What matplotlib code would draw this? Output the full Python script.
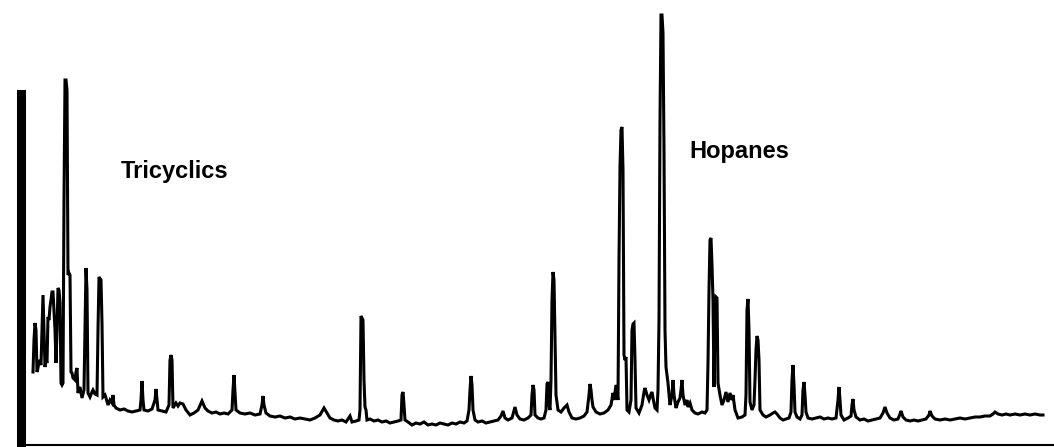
import matplotlib
matplotlib.use("Agg")
import matplotlib.pyplot as plt

# m/z 191 trace, scan number vs abundance (arbitrary units)
scans = [
    24, 26, 28, 30, 32, 34, 36, 40, 42, 44, 46, 48, 50, 52, 54, 56, 58, 60, 62, 64,
    66, 68, 70, 72, 74, 76, 78, 80, 82, 84, 86, 88, 90, 92, 94, 96, 98, 100, 102, 104,
    108, 110, 112, 114, 118, 122, 126, 128, 130, 132, 134, 138, 142, 144, 148, 152, 154, 156, 160, 162,
    164, 168, 170, 174, 178, 182, 184, 186, 190, 198, 206, 214, 222, 230, 238, 240, 242, 244, 246, 254,
    262, 268, 270, 272, 274, 282, 290, 296, 298, 300, 302, 304, 310, 314, 318, 324, 330, 338, 346, 354,
    362, 368, 374, 382, 390, 398, 406, 414, 422, 424, 426, 428, 430, 438, 448, 458, 468, 478, 482, 484,
    486, 490, 498, 508, 518, 528, 538, 548, 558, 568, 578, 588, 598, 606, 612, 618, 626, 634, 642, 650,
    658, 662, 670, 676, 678, 680, 684, 686, 688, 690, 692, 698, 706, 714, 722, 730, 738, 746, 754, 760,
    762, 764, 766, 768, 774, 782, 790, 798, 806, 814, 822, 830, 838, 846, 854, 862, 870, 878, 886, 892,
    896, 898, 900, 902, 904, 908, 914, 922, 930, 938, 946, 954, 960, 964, 968, 974, 982, 988, 992, 998,
    1006, 1014, 1020, 1022, 1024, 1026, 1028, 1034, 1040, 1046, 1050, 1052, 1054, 1056, 1058, 1060, 1062, 1064, 1066, 1068,
    1070, 1074, 1080, 1086, 1092, 1096, 1102, 1110, 1118, 1126, 1132, 1136, 1138, 1140, 1142, 1144, 1150, 1158, 1166, 1174,
    1180, 1184, 1186, 1190, 1194, 1196, 1198, 1200, 1202, 1204, 1206, 1208, 1210, 1212, 1216, 1220, 1222, 1224, 1226, 1228,
    1230, 1236, 1242, 1246, 1248, 1252, 1256, 1260, 1262, 1264, 1268, 1272, 1274, 1276, 1278, 1280, 1282, 1284, 1286, 1288,
    1290, 1294, 1298, 1302, 1304, 1306, 1310, 1314, 1318, 1320, 1322, 1324, 1328, 1332, 1334, 1338, 1342, 1348, 1354, 1362,
    1368, 1372, 1374, 1376, 1378, 1380, 1382, 1384, 1386, 1388, 1390, 1392, 1394, 1398, 1402, 1406, 1410, 1414, 1418, 1422,
    1424, 1428, 1434, 1442, 1448, 1450, 1452, 1454, 1456, 1458, 1462, 1466, 1468, 1470, 1472, 1474, 1476, 1478, 1484, 1490,
    1498, 1504, 1508, 1512, 1518, 1524, 1530, 1536, 1540, 1542, 1544, 1546, 1548, 1552, 1558, 1562, 1564, 1566, 1568, 1570,
    1574, 1582, 1590, 1598, 1606, 1614, 1622, 1630, 1634, 1636, 1638, 1640, 1646, 1654, 1660, 1662, 1664, 1666, 1670, 1678,
    1686, 1694, 1702, 1710, 1718, 1724, 1728, 1732, 1738, 1746, 1754, 1758, 1760, 1764, 1770, 1778, 1786, 1794, 1802, 1810,
    1816, 1818, 1822, 1828, 1838, 1848, 1858, 1868, 1878, 1888, 1898, 1908, 1918, 1928, 1938, 1944, 1948, 1954, 1962, 1970,
    1978, 1988, 1998, 2008, 2018, 2028, 2038, 2044,
]
abundance = [
    73, 105, 122, 115, 73, 77, 85, 80, 115, 150, 115, 78, 85, 82, 128, 125, 138, 145, 153, 153,
    135, 115, 82, 115, 157, 155, 142, 62, 60, 62, 245, 365, 365, 355, 170, 172, 170, 73, 72, 67,
    65, 73, 77, 52, 58, 47, 55, 115, 177, 155, 52, 48, 53, 55, 51, 50, 115, 168, 165, 122,
    48, 50, 47, 40, 45, 42, 50, 40, 37, 35, 36, 34, 33, 34, 35, 45, 64, 45, 35, 34,
    36, 45, 56, 45, 35, 34, 33, 40, 85, 90, 85, 37, 42, 39, 42, 41, 35, 30, 32, 35,
    44, 37, 34, 32, 33, 31, 32, 31, 35, 55, 70, 53, 35, 32, 31, 32, 30, 31, 40, 49,
    40, 32, 29, 28, 29, 27, 28, 26, 27, 26, 25, 27, 30, 37, 32, 27, 25, 24, 25, 23,
    29, 23, 24, 25, 35, 129, 125, 65, 38, 35, 25, 26, 24, 25, 23, 24, 22, 23, 24, 25,
    50, 53, 40, 25, 23, 20, 22, 21, 23, 20, 21, 20, 22, 21, 20, 22, 21, 23, 22, 24,
    35, 55, 69, 60, 35, 25, 23, 24, 22, 23, 24, 25, 29, 34, 27, 25, 27, 38, 30, 26,
    25, 27, 30, 50, 60, 55, 30, 27, 26, 27, 35, 61, 63, 40, 35, 65, 145, 173, 165, 110,
    50, 35, 33, 37, 40, 33, 27, 26, 27, 29, 33, 50, 61, 55, 45, 38, 33, 31, 32, 35,
    40, 52, 45, 60, 45, 185, 278, 315, 318, 275, 90, 85, 88, 35, 33, 45, 115, 121, 122, 85,
    37, 32, 40, 53, 57, 50, 45, 51, 53, 47, 37, 35, 55, 125, 325, 430, 430, 412, 295, 115,
    78, 62, 40, 50, 65, 50, 37, 43, 47, 55, 65, 50, 40, 45, 38, 42, 35, 32, 31, 33,
    32, 35, 82, 155, 205, 207, 180, 145, 58, 125, 148, 147, 62, 50, 40, 45, 53, 43, 52, 45,
    50, 35, 27, 28, 30, 50, 135, 146, 115, 43, 35, 40, 65, 95, 109, 105, 85, 35, 30, 28,
    30, 32, 33, 31, 27, 25, 26, 27, 33, 65, 80, 60, 33, 28, 26, 30, 55, 63, 50, 33,
    27, 26, 27, 28, 26, 27, 26, 27, 45, 58, 45, 30, 25, 27, 29, 40, 46, 35, 28, 25,
    26, 24, 25, 26, 27, 32, 38, 32, 27, 25, 26, 31, 34, 28, 25, 24, 25, 24, 25, 26,
    30, 34, 29, 26, 25, 26, 25, 26, 27, 26, 27, 28, 28, 29, 29, 31, 33, 31, 30, 31,
    30, 31, 30, 31, 30, 31, 30, 30,
]

# compound group labels, placed at (scan, abundance) of the text baseline
group_labels = ["Tricyclics", "Hopanes"]
label_scans = [200, 1336]
label_levels = [267, 287]

fig = plt.figure(figsize=(10.54, 4.47), dpi=100)
ax = fig.add_axes([21 / 1054, 2 / 447, 1033 / 1054, 435 / 447])

ax.plot(scans, abundance, color="black", linewidth=2.2, solid_joinstyle="miter")
ax.set_xlim(0, 2066)
ax.set_ylim(0, 435)

for txt, xs, ys in zip(group_labels, label_scans, label_levels):
    ax.text(xs, ys, txt, fontsize=17, fontweight="bold",
            family="Liberation Sans", ha="left", va="baseline")

# thick abundance bar on the left, thin time axis below
ax.spines["top"].set_visible(False)
ax.spines["right"].set_visible(False)
ax.spines["left"].set_linewidth(6.5)
ax.spines["left"].set_bounds(0, 351)
ax.spines["bottom"].set_linewidth(1.5)
ax.set_xticks([])
ax.set_yticks([])
ax.patch.set_alpha(0)

fig.savefig("out.png", dpi=100)
